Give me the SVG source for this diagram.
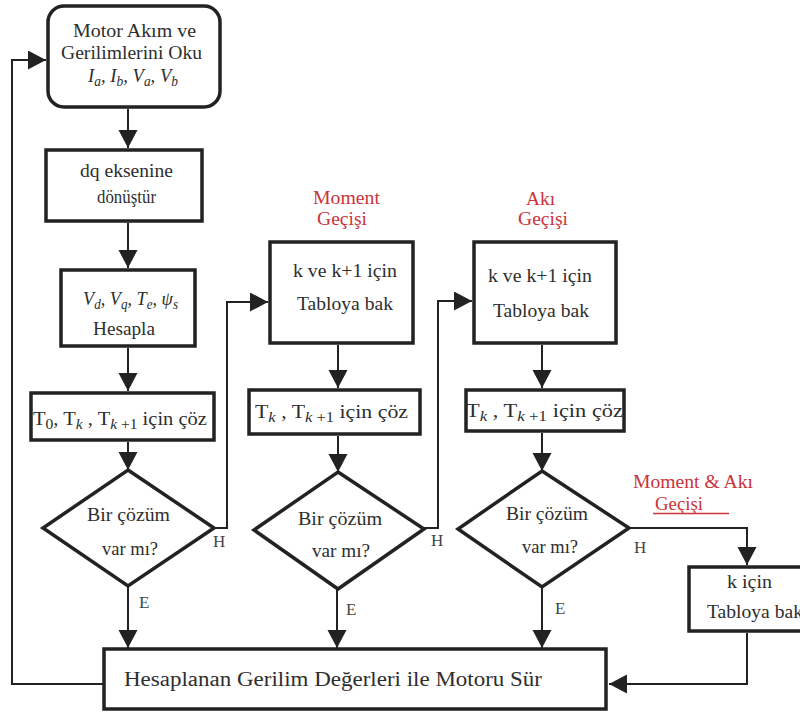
<svg xmlns="http://www.w3.org/2000/svg" width="800" height="716" viewBox="0 0 800 716">
<style>
.box{fill:#fff;stroke:#222;stroke-width:3.5}
.ln{fill:none;stroke:#222;stroke-width:2}
text{font-family:"Liberation Serif","Times New Roman",serif;fill:#2e2e2e;font-size:18.5px}
.it{font-style:italic;font-size:19.5px}
.sub{font-size:14px}
.red{fill:#c9343a;font-size:19px}
.lbl{font-size:17px;fill:#444}
.dia{font-size:19px}
.big{font-size:20.5px}
</style>
<defs>
<marker id="ah" markerUnits="userSpaceOnUse" markerWidth="20" markerHeight="20" refX="18" refY="9.5" orient="auto">
<path d="M0,0 L18,9.5 L0,19 z" fill="#222"/>
</marker>
</defs>
<rect width="800" height="716" fill="#fff"/>

<g id="connectors">
<polyline class="ln" points="104,684 12,684 12,60 46,60" marker-end="url(#ah)"/>
<line class="ln" x1="128" y1="109" x2="128" y2="148" marker-end="url(#ah)"/>
<line class="ln" x1="128" y1="223" x2="128" y2="268" marker-end="url(#ah)"/>
<line class="ln" x1="128" y1="348" x2="128" y2="391" marker-end="url(#ah)"/>
<line class="ln" x1="128" y1="442" x2="128" y2="470" marker-end="url(#ah)"/>
<line class="ln" x1="128" y1="586" x2="128" y2="648" marker-end="url(#ah)"/>
<polyline class="ln" points="214,528 227,528 227,302 268,302" marker-end="url(#ah)"/>
<line class="ln" x1="338" y1="345" x2="338" y2="388" marker-end="url(#ah)"/>
<line class="ln" x1="338" y1="436" x2="338" y2="472" marker-end="url(#ah)"/>
<line class="ln" x1="337" y1="589" x2="337" y2="648" marker-end="url(#ah)"/>
<polyline class="ln" points="424,528 438,528 438,301 472,301" marker-end="url(#ah)"/>
<line class="ln" x1="542" y1="345" x2="542" y2="388" marker-end="url(#ah)"/>
<line class="ln" x1="542" y1="433" x2="542" y2="471" marker-end="url(#ah)"/>
<line class="ln" x1="542" y1="587" x2="542" y2="648" marker-end="url(#ah)"/>
<polyline class="ln" points="629,528 747,528 747,565" marker-end="url(#ah)"/>
<polyline class="ln" points="747,633 747,684 609,684" marker-end="url(#ah)"/>
<text class="lbl" x="213" y="547">H</text>
<text class="lbl" x="431" y="546">H</text>
<text class="lbl" x="634" y="553">H</text>
<text class="lbl" x="139" y="608">E</text>
<text class="lbl" x="346" y="615">E</text>
<text class="lbl" x="555" y="614">E</text>
</g>

<g id="read">
<rect class="box" x="48" y="6" width="172" height="101" rx="16"/>
<text x="73" y="37" textLength="123" lengthAdjust="spacingAndGlyphs">Motor Akım ve</text>
<text x="61" y="59" textLength="141" lengthAdjust="spacingAndGlyphs">Gerilimlerini Oku</text>
<text class="it" x="88" y="82" textLength="90" lengthAdjust="spacingAndGlyphs">I<tspan class="sub" dy="4">a</tspan><tspan dy="-4">, I</tspan><tspan class="sub" dy="4">b</tspan><tspan dy="-4">, V</tspan><tspan class="sub" dy="4">a</tspan><tspan dy="-4">, V</tspan><tspan class="sub" dy="4">b</tspan></text>
</g>

<g id="dq">
<rect class="box" x="46" y="150" width="156" height="71"/>
<text x="80" y="177" textLength="93" lengthAdjust="spacingAndGlyphs">dq eksenine</text>
<text x="97" y="203" textLength="59" lengthAdjust="spacingAndGlyphs">dönüştür</text>
</g>

<g id="hesapla">
<rect class="box" x="61" y="270" width="134" height="76"/>
<text class="it" x="83" y="305" textLength="95" lengthAdjust="spacingAndGlyphs">V<tspan class="sub" dy="4">d</tspan><tspan dy="-4">, V</tspan><tspan class="sub" dy="4">q</tspan><tspan dy="-4">, T</tspan><tspan class="sub" dy="4">e</tspan><tspan dy="-4">, ψ</tspan><tspan class="sub" dy="4">s</tspan></text>
<text x="93" y="335" textLength="62" lengthAdjust="spacingAndGlyphs">Hesapla</text>
</g>

<g id="coz1">
<rect class="box" x="31" y="393" width="183" height="47"/>
<text x="33" y="425" textLength="174" lengthAdjust="spacingAndGlyphs">T<tspan class="sub" dy="4">0</tspan><tspan dy="-4">, T</tspan><tspan class="sub it" dy="4">k</tspan><tspan dy="-4"> , T</tspan><tspan class="sub it" dy="4">k</tspan><tspan class="sub"> +1</tspan><tspan dy="-4"> için çöz</tspan></text>
</g>

<g id="karar1">
<polygon class="box" points="128,470 214,528 128,586 43,528"/>
<text class="dia" x="87" y="521" textLength="83" lengthAdjust="spacingAndGlyphs">Bir çözüm</text>
<text class="dia" x="102" y="555" textLength="56" lengthAdjust="spacingAndGlyphs">var mı?</text>
</g>

<g id="moment">
<text class="red" x="313" y="204" textLength="67" lengthAdjust="spacingAndGlyphs">Moment</text>
<text class="red" x="317" y="225" textLength="50" lengthAdjust="spacingAndGlyphs">Geçişi</text>
<rect class="box" x="270" y="242" width="143" height="101"/>
<text x="293" y="277" textLength="104" lengthAdjust="spacingAndGlyphs">k ve k+1 için</text>
<text x="297" y="310" textLength="96" lengthAdjust="spacingAndGlyphs">Tabloya bak</text>
</g>

<g id="coz2">
<rect class="box" x="249" y="390" width="171" height="44"/>
<text x="255" y="418" textLength="153" lengthAdjust="spacingAndGlyphs">T<tspan class="sub it" dy="4">k</tspan><tspan dy="-4"> , T</tspan><tspan class="sub it" dy="4">k</tspan><tspan class="sub"> +1</tspan><tspan dy="-4"> için çöz</tspan></text>
</g>

<g id="karar2">
<polygon class="box" points="338,472 424,529 338,589 254,530"/>
<text class="dia" x="298" y="525" textLength="84" lengthAdjust="spacingAndGlyphs">Bir çözüm</text>
<text class="dia" x="312" y="557" textLength="58" lengthAdjust="spacingAndGlyphs">var mı?</text>
</g>

<g id="aki">
<text class="red" x="526" y="205" textLength="29" lengthAdjust="spacingAndGlyphs">Akı</text>
<text class="red" x="518" y="225" textLength="50" lengthAdjust="spacingAndGlyphs">Geçişi</text>
<rect class="box" x="474" y="242" width="142" height="101"/>
<text x="488" y="282" textLength="104" lengthAdjust="spacingAndGlyphs">k ve k+1 için</text>
<text x="493" y="317" textLength="96" lengthAdjust="spacingAndGlyphs">Tabloya bak</text>
</g>

<g id="coz3">
<rect class="box" x="466" y="390" width="158" height="41"/>
<text x="466" y="417" textLength="157" lengthAdjust="spacingAndGlyphs">T<tspan class="sub it" dy="4">k</tspan><tspan dy="-4"> , T</tspan><tspan class="sub it" dy="4">k</tspan><tspan class="sub"> +1</tspan><tspan dy="-4"> için çöz</tspan></text>
</g>

<g id="karar3">
<polygon class="box" points="542,471 629,528 542,587 458,529"/>
<text class="dia" x="506" y="520" textLength="82" lengthAdjust="spacingAndGlyphs">Bir çözüm</text>
<text class="dia" x="522" y="553" textLength="56" lengthAdjust="spacingAndGlyphs">var mı?</text>
</g>

<g id="momentaki">
<text class="red" x="633" y="488" textLength="120" lengthAdjust="spacingAndGlyphs">Moment &amp; Akı</text>
<text class="red" x="655" y="510" textLength="48" lengthAdjust="spacingAndGlyphs">Geçişi</text>
<line x1="653" y1="513.5" x2="729" y2="513.5" stroke="#c9343a" stroke-width="1.5"/>
<rect class="box" x="689" y="567" width="130" height="64"/>
<text x="727" y="588" textLength="45" lengthAdjust="spacingAndGlyphs">k için</text>
<text x="707" y="618" textLength="96" lengthAdjust="spacingAndGlyphs">Tabloya bak</text>
</g>

<g id="sur">
<rect class="box" x="104" y="649" width="502" height="60"/>
<text class="big" x="124" y="686" textLength="418" lengthAdjust="spacingAndGlyphs">Hesaplanan Gerilim Değerleri ile Motoru Sür</text>
</g>
</svg>
